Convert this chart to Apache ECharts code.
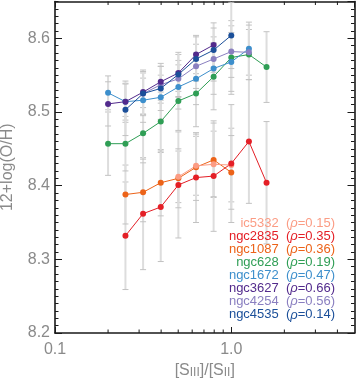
<!DOCTYPE html>
<html><head><meta charset="utf-8">
<script src="https://cdn.jsdelivr.net/npm/echarts@6/dist/echarts.min.js"></script>
<style>html,body{margin:0;padding:0;background:#fff}#c{width:356px;height:378px}</style>
</head><body><div id="c"></div>
<script>
// bins of [SIII]/[SII] (0.1 dex steps)
const bins = [0.2, 0.251, 0.316, 0.398, 0.501, 0.631, 0.794, 1.0, 1.259, 1.585];
const galaxies = ['ic5332','ngc2835','ngc1087','ngc628','ngc1672','ngc3627','ngc4254','ngc4535'];
const rhoLabels = ['0.15','0.35','0.36','0.19','0.47','0.66','0.56','0.14'];
const colors = ['#fb9c84','#e41f26','#ec6319','#2f9e55','#3d8fcc','#522a8c','#8a7fc0','#1b4f99'];

// 12+log(O/H) per bin (null = no data)
const ic5332  = [null, null, null, null, 8.412, 8.427, 8.429, 8.428, null, null];
const ngc2835 = [null, 8.332, 8.362, 8.371, 8.401, 8.411, 8.413, 8.430, 8.460, 8.404];
const ngc1087 = [null, 8.388, 8.391, 8.404, 8.410, 8.425, 8.435, 8.418, null, null];
const ngc628  = [8.457, 8.457, 8.471, 8.487, 8.515, 8.525, 8.548, 8.574, 8.578, 8.561];
const ngc1672 = [8.526, 8.514, 8.516, 8.520, 8.534, 8.545, 8.559, 8.568, 8.586, null];
const ngc3627 = [8.511, 8.514, 8.527, 8.541, 8.553, 8.578, 8.591, null, null, null];
const ngc4254 = [null, null, 8.525, 8.537, 8.545, 8.562, 8.572, 8.582, 8.581, null];
const ngc4535 = [null, 8.503, 8.525, 8.532, 8.551, 8.572, 8.584, 8.604, null, null];

// 1-sigma scatter per bin
const ic5332Err  = [null, null, null, null, 0.035, 0.040, 0.045, 0.050, null, null];
const ngc2835Err = [null, 0.073, 0.076, 0.074, 0.072, 0.061, 0.075, 0.080, 0.084, 0.083];
const ngc1087Err = [null, 0.040, 0.040, 0.045, 0.040, 0.045, 0.050, 0.050, null, null];
const ngc628Err  = [0.043, 0.037, 0.035, 0.040, 0.040, 0.045, 0.045, 0.050, 0.034, 0.048];
const ngc1672Err = [0.023, 0.025, 0.030, 0.030, 0.030, 0.035, 0.035, 0.040, 0.036, null];
const ngc3627Err = [0.030, 0.028, 0.030, 0.025, 0.025, 0.026, 0.030, null, null, null];
const ngc4254Err = [null, null, 0.028, 0.025, 0.025, 0.030, 0.030, 0.035, 0.037, null];
const ngc4535Err = [null, 0.035, 0.030, 0.030, 0.030, 0.030, 0.030, 0.045, null, null];

const xMinorTicks = [0.2, 0.3, 0.4, 0.5, 0.6, 0.7, 0.8, 0.9, 2, 3, 4];

const values = [ic5332, ngc2835, ngc1087, ngc628, ngc1672, ngc3627, ngc4254, ngc4535];
const errors = [ic5332Err, ngc2835Err, ngc1087Err, ngc628Err, ngc1672Err, ngc3627Err, ngc4254Err, ngc4535Err];

const Y_MIN = 8.2, Y_MAX = 8.65, X_MIN = 0.1, X_MAX = 5;
const FONT = 'Liberation Sans';
const AXIS_COLOR = '#1a1a1a';

const errData = [];
values.forEach((vals, g) => vals.forEach((v, i) => {
  if (v != null) errData.push([bins[i], v, errors[g][i]]);
}));

const series = [];
series.push({
  type: 'custom', name: 'err', z: 1, clip: true, silent: true,
  xAxisIndex: 0, yAxisIndex: 0,
  data: errData,
  renderItem(params, api) {
    const x = api.value(0), y = api.value(1), e = api.value(2);
    const t = api.coord([x, y + e]), b = api.coord([x, y - e]);
    return { type: 'group', children: [
      { type: 'line', shape: { x1: t[0], y1: t[1], x2: b[0], y2: b[1] }, style: { stroke: '#dddddd', lineWidth: 2 } },
      { type: 'line', shape: { x1: t[0] - 3, y1: t[1], x2: t[0] + 3, y2: t[1] }, style: { stroke: '#c2c2c2', lineWidth: 1 } },
      { type: 'line', shape: { x1: b[0] - 3, y1: b[1], x2: b[0] + 3, y2: b[1] }, style: { stroke: '#c2c2c2', lineWidth: 1 } }
    ]};
  }
});
const drawOrder = [3, 2, 0, 1, 4, 6, 5, 7];
drawOrder.forEach(g => {
  const data = [];
  values[g].forEach((v, i) => { if (v != null) data.push([bins[i], v]); });
  series.push({
    type: 'line', name: galaxies[g], data, z: 3,
    xAxisIndex: 0, yAxisIndex: 0,
    symbol: 'circle', symbolSize: 6, showSymbol: true,
    lineStyle: { color: colors[g], width: 1 },
    itemStyle: { color: colors[g] },
    emphasis: { disabled: true }, animation: false
  });
});
series.push({
  type: 'custom', name: 'xminor', z: 5, silent: true,
  xAxisIndex: 0, yAxisIndex: 0,
  data: xMinorTicks.map(v => [v, Y_MIN]),
  renderItem(params, api) {
    const v = api.value(0);
    const b = api.coord([v, Y_MIN]), t = api.coord([v, Y_MAX]);
    return { type: 'group', children: [
      { type: 'line', shape: { x1: b[0], y1: b[1], x2: b[0], y2: b[1] - 3.5 }, style: { stroke: AXIS_COLOR, lineWidth: 1 } },
      { type: 'line', shape: { x1: t[0], y1: t[1], x2: t[0], y2: t[1] + 3.5 }, style: { stroke: AXIS_COLOR, lineWidth: 1 } }
    ]};
  }
});

const axisLine = { show: true, lineStyle: { color: AXIS_COLOR, width: 1.6 } };
const labelStyle = { color: '#8a8a8a', fontFamily: FONT, fontSize: 16 };

const legendGraphics = galaxies.map((n, g) => ({
  type: 'text', right: 21, top: 217 + g * 13.06, z: 10,
  style: {
    text: '{a|' + n + '  (}{b|ρ}{a|=' + rhoLabels[g] + ')}',
    rich: {
      a: { fontFamily: FONT, fontSize: 13, fill: colors[g] },
      b: { fontFamily: FONT, fontSize: 13, fill: colors[g], fontStyle: 'italic' }
    },
    align: 'right'
  }
}));

const chart = echarts.init(document.getElementById('c'), null, { renderer: 'canvas' });
chart.setOption({
  animation: false,
  backgroundColor: '#fff',
  grid: { left: 55, right: 1.5, top: 1.5, bottom: 45, containLabel: false, outerBoundsMode: 'none' },
  xAxis: [
    { type: 'log', logBase: 10, min: X_MIN, max: X_MAX, position: 'bottom',
      axisLine, axisTick: { show: true, inside: true, length: 6, lineStyle: { color: AXIS_COLOR, width: 1 } },
      axisLabel: { ...labelStyle, margin: 9, showMaxLabel: false, formatter: v => Number(v).toFixed(1) },
      splitLine: { show: false },
      name: '[S{s|III}]/[S{s|II}]', nameLocation: 'middle', nameGap: 29,
      nameTextStyle: { color: '#8a8a8a', fontFamily: FONT, fontSize: 16,
        rich: { s: { color: '#8a8a8a', fontFamily: FONT, fontSize: 12, verticalAlign: 'bottom' } } } },
    { type: 'log', logBase: 10, min: X_MIN, max: X_MAX, position: 'top',
      axisLine, axisTick: { show: true, inside: true, length: 6, lineStyle: { color: AXIS_COLOR, width: 1 } },
      axisLabel: { show: false }, splitLine: { show: false } }
  ],
  yAxis: [
    { type: 'value', min: Y_MIN, max: Y_MAX, interval: 0.1, position: 'left',
      axisLine, axisTick: { show: true, inside: true, length: 7, lineStyle: { color: AXIS_COLOR, width: 1 } },
      axisLabel: { ...labelStyle, margin: 5, showMaxLabel: false, formatter: v => Number(v).toFixed(1) },
      splitLine: { show: false },
      name: '12+log(O/H)', nameLocation: 'middle', nameRotate: 90, nameGap: 39,
      nameTextStyle: { color: '#8a8a8a', fontFamily: FONT, fontSize: 16 } },
    { type: 'value', min: Y_MIN, max: Y_MAX, interval: 0.01, position: 'left',
      axisLine: { show: false }, axisTick: { show: true, inside: true, length: 3.5, lineStyle: { color: AXIS_COLOR, width: 1 } },
      axisLabel: { show: false }, splitLine: { show: false } },
    { type: 'value', min: Y_MIN, max: Y_MAX, interval: 0.1, position: 'right',
      axisLine, axisTick: { show: true, inside: true, length: 7, lineStyle: { color: AXIS_COLOR, width: 1 } },
      axisLabel: { show: false }, splitLine: { show: false } },
    { type: 'value', min: Y_MIN, max: Y_MAX, interval: 0.01, position: 'right',
      axisLine: { show: false }, axisTick: { show: true, inside: true, length: 3.5, lineStyle: { color: AXIS_COLOR, width: 1 } },
      axisLabel: { show: false }, splitLine: { show: false } }
  ],
  graphic: legendGraphics,
  series
});
</script></body></html>
